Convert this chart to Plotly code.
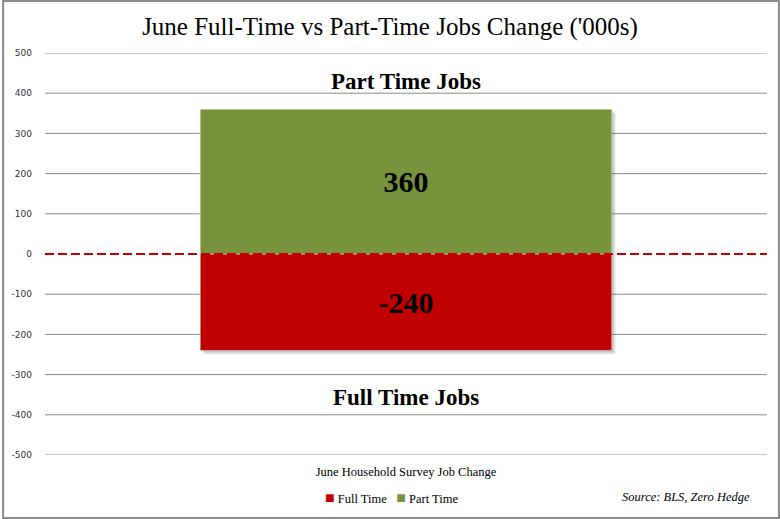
import plotly.graph_objects as go

categories = ["June Household Survey Job Change"]
full_time = [-240]
part_time = [360]
series_names = ["Full Time", "Part Time"]
y_ticks = [500, 400, 300, 200, 100, 0, -100, -200, -300, -400, -500]

RED = "#C00000"
GREEN = "#77933C"
GRID = "#8A8A8A"
SERIF = "Liberation Serif, Times New Roman, serif"
BAR_W = 0.57

fig = go.Figure()
fig.add_trace(go.Bar(
    x=categories, y=full_time, name=series_names[0], marker_color=RED,
    width=BAR_W, text=[str(v) for v in full_time], textposition="inside",
    insidetextanchor="middle", textangle=0, showlegend=False, hoverinfo="skip",
    textfont=dict(family=SERIF, size=30, color="black", weight="bold"),
))
fig.add_trace(go.Bar(
    x=categories, y=part_time, name=series_names[1], marker_color=GREEN,
    width=BAR_W, text=[str(v) for v in part_time], textposition="inside",
    insidetextanchor="middle", textangle=0, showlegend=False, hoverinfo="skip",
    textfont=dict(family=SERIF, size=30, color="black", weight="bold"),
))

W_PLOT = 724.0
H_PLOT = 402.0

fig.update_layout(
    width=780, height=519,
    barmode="relative",
    paper_bgcolor="white", plot_bgcolor="white",
    margin=dict(l=43, r=13, t=53, b=64),
    title=dict(text="June Full-Time vs Part-Time Jobs Change ('000s)",
               x=0.5, xanchor="center", y=1 - 26/519, yanchor="middle",
               font=dict(family=SERIF, size=25, color="black")),
    showlegend=False,
    xaxis=dict(showgrid=False, showticklabels=False, showline=False, zeroline=False,
               title=dict(text=categories[0], standoff=12,
                          font=dict(family=SERIF, size=12.5, color="black"))),
    yaxis=dict(range=[-500, 500], tickvals=y_ticks, ticktext=[str(v) for v in y_ticks],
               showgrid=False, zeroline=False, showline=False,
               tickfont=dict(family="DejaVu Sans, Verdana, sans-serif", size=9, color="#333333"),
               ticklabelstandoff=12),
)

# gridlines (all but zero, which is drawn as the dashed red line)
for t in y_ticks:
    if t != 0:
        fig.add_shape(type="line", xref="paper", yref="y", x0=0, x1=1, y0=t, y1=t,
                      line=dict(color=GRID, width=1), layer="below")

# soft drop shadow behind the stacked bar (derived from data)
dx = 1.0 / W_PLOT
dy = 1000.0 / H_PLOT
for off in [4, 3, 2, 1]:
    fig.add_shape(type="rect", xref="x", yref="y",
                  x0=-BAR_W/2 + dx*off, x1=BAR_W/2 + dx*off,
                  y0=min(full_time) - dy*off, y1=max(part_time) - dy*off,
                  line=dict(width=0), fillcolor="rgba(0,0,0,0.07)", layer="below")

# zero line dashed red over bars
fig.add_shape(type="line", xref="paper", yref="y", x0=0, x1=1, y0=0, y1=0,
              line=dict(color=RED, width=2, dash="9px,4px"), layer="above")

fig.add_annotation(text="<b>Part Time Jobs</b>", xref="paper", yref="y", x=0.5,
                   y=430, showarrow=False, font=dict(family=SERIF, size=23, color="black"))
fig.add_annotation(text="<b>Full Time Jobs</b>", xref="paper", yref="y", x=0.5,
                   y=-357, showarrow=False, font=dict(family=SERIF, size=23, color="black"))

legend_text = (f'<span style="color:{RED};font-size:16px">■</span> {series_names[0]}'
               f'&nbsp;&nbsp;&nbsp;<span style="color:{GREEN};font-size:16px">■</span> {series_names[1]}')
fig.add_annotation(text=legend_text, xref="paper", yref="paper",
                   x=(322-43)/W_PLOT, xanchor="left", y=-(497-455)/H_PLOT, yanchor="middle",
                   showarrow=False, font=dict(family=SERIF, size=12.5, color="black"))

fig.add_annotation(text="<i>Source: BLS, Zero Hedge</i>", xref="paper", yref="paper",
                   x=(752-43)/W_PLOT, xanchor="right", y=-(497-455)/H_PLOT, yanchor="middle",
                   showarrow=False, font=dict(family=SERIF, size=12.5, color="black"))

# outer border
fig.add_shape(type="rect", xref="paper", yref="paper",
              x0=-(43-1)/W_PLOT, x1=1 + (13-1)/W_PLOT,
              y0=-(64-1)/H_PLOT, y1=1 + (53-1)/H_PLOT,
              line=dict(color="#8C8C8C", width=2), fillcolor="rgba(0,0,0,0)", layer="above")

fig.write_html("out.html", config={"displayModeBar": False},
               post_script="document.body.style.margin='0';")
